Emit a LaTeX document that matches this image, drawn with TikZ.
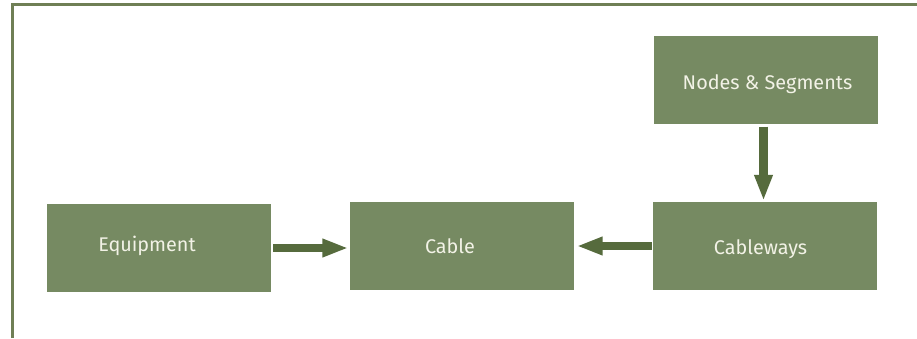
\documentclass[tikz,border=0pt]{standalone}
\usepackage{fontspec}
\setmainfont{Fira Sans}
\usetikzlibrary{arrows.meta}
\definecolor{boxfill}{HTML}{768A62}
\definecolor{arrowcol}{HTML}{566B3D}
\definecolor{framecol}{HTML}{6F7F55}
\definecolor{txtcol}{HTML}{F2F2E6}
\begin{document}
\begin{tikzpicture}[x=1pt,y=-1pt,
  blk/.style={fill=boxfill, draw=none, minimum width=224pt, minimum height=88pt, inner sep=0pt},
  lbl/.style={text=txtcol, font=\fontsize{19.8}{23}\selectfont},
  fat/.style={draw=arrowcol, line width=7.5pt, -{Triangle[length=26pt,width=17pt]}, shorten >=1pt}]
\useasboundingbox (0,0) rectangle (917,338);
\fill[white] (0,0) rectangle (917,338);
\draw[framecol, line width=3pt] (12,338) -- (12,4) -- (917,4);
\node[blk] (ns) at (765.5,79.5) {};
\node[blk] (cw) at (765,246) {};
\node[blk] (cb) at (461.5,246) {};
\node[blk] (eq) at (159,248) {};
\node[lbl] at (767.5,84) {Nodes \& Segments};
\node[lbl] at (760.5,249) {Cableways};
\node[lbl] at (450,246) {Cable};
\node[lbl] at (147,246) {Equipment};
\draw[fat] (eq.east |- 0,248) ++(2,0) coordinate (a1) -- (cb.west |- a1);
\draw[fat] (cw.west |- 0,246) ++(-1,0) coordinate (a2) -- ([xshift=2pt]cb.east |- a2);
\draw[fat, line width=8.5pt] (ns.south) ++(-2,3) coordinate (a3) -- (a3 |- cw.north);
\end{tikzpicture}
\end{document}
